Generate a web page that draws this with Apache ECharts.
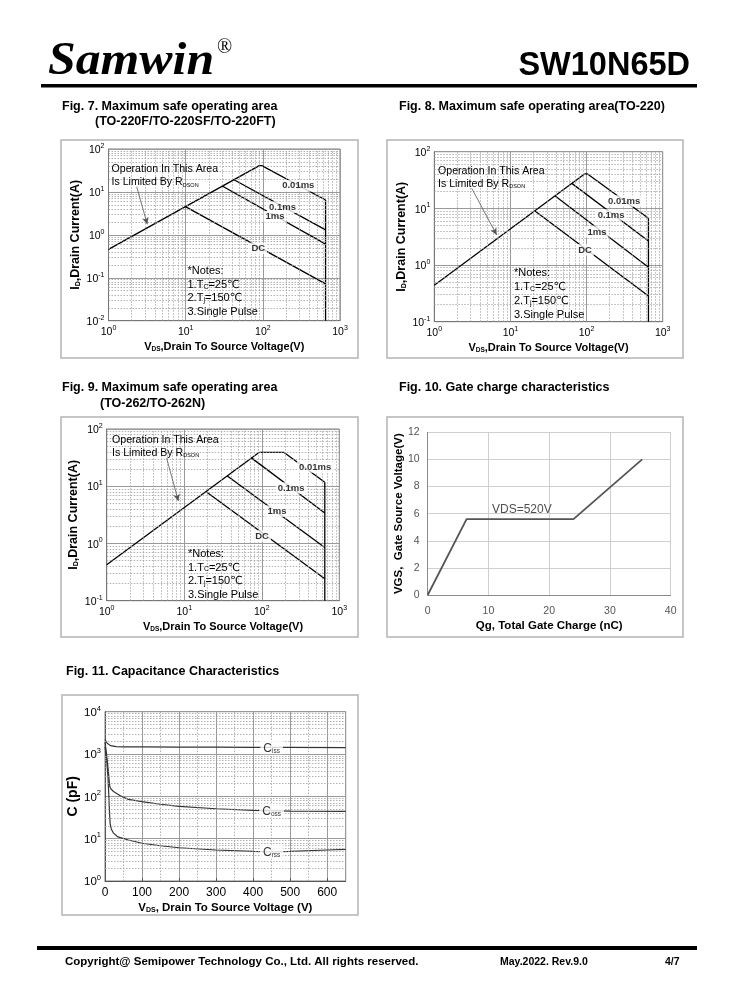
<!DOCTYPE html>
<html><head><meta charset="utf-8">
<script src="https://cdn.jsdelivr.net/npm/echarts@6/dist/echarts.min.js"></script>
<style>html,body{margin:0;padding:0;background:#fff}#c{width:738px;height:1000px}</style>
</head><body><div id="c"></div>
<script>
// ---------------- DATA ----------------
// Fig. 7  SOA (TO-220F/TO-220SF/TO-220FT)   [Vds (V), Id (A)]
const fig7Rdson = [[1, 0.458], [90, 41]];
const fig7P10us = [[90, 41], [97, 41], [650, 6.5]];
const fig7P100us = [[41.7, 19.5], [650, 1.31]];
const fig7P1ms = [[29.4, 13.9], [650, 0.61]];
const fig7DC = [[9.8, 4.6], [650, 0.072]];
const fig7Limit = [[650, 6.5], [650, 0.01]];
const fig7Labels = [[288, 14.0, '0.01ms'], [180, 4.38, '0.1ms'], [143.5, 2.64, '1ms'], [87.2, 0.484, 'DC']];
const fig7Arrow = [[2.32, 13.2], [3.18, 1.76]];

// Fig. 8  SOA (TO-220)
const fig8Rdson = [[1, 0.44], [94, 40.4]];
const fig8P10us = [[94, 40.4], [103, 40.4], [650, 6.7]];
const fig8P100us = [[64, 27.6], [650, 2.65]];
const fig8P1ms = [[38.7, 16.5], [650, 0.91]];
const fig8DC = [[21, 9.0], [650, 0.284]];
const fig8Limit = [[650, 6.7], [650, 0.1]];
const fig8Labels = [[311, 13.5, '0.01ms'], [210, 7.66, '0.1ms'], [137, 3.84, '1ms'], [95.5, 1.85, 'DC']];
const fig8Arrow = [[3.1, 22.6], [6.6, 3.4]];

// Fig. 9  SOA (TO-262/TO-262N)
const fig9Rdson = [[1, 0.425], [93, 39.2]];
const fig9P10us = [[93, 39.2], [192, 39.2], [650, 11.7]];
const fig9P100us = [[72.8, 31.6], [650, 3.4]];
const fig9P1ms = [[35.6, 15.3], [650, 0.85]];
const fig9DC = [[19, 8.1], [650, 0.241]];
const fig9Limit = [[650, 11.7], [650, 0.1]];
const fig9Labels = [[487, 21.7, '0.01ms'], [239, 9.3, '0.1ms'], [157, 3.68, '1ms'], [101, 1.35, 'DC']];
const fig9Arrow = [[5.94, 30.8], [8.4, 5.5]];

// Fig. 10 Gate charge   [Qg (nC), Vgs (V)]
const fig10Qg = [[0, 0], [6.4, 5.6], [24, 5.6], [35.3, 10]];
const fig10Label = [[15.5, 6.27, 'VDS=520V']];

// Fig. 11 Capacitance   [Vds (V), C (pF)]
const fig11Ciss = [[0, 2200], [3, 2000], [6, 1800], [10, 1680], [15, 1580], [20, 1540], [30, 1500], [50, 1480], [100, 1470], [200, 1460], [300, 1450], [400, 1440], [500, 1430], [650, 1420]];
const fig11Coss = [[0, 1900], [3, 1200], [6, 700], [9, 400], [11, 250], [13, 170], [16, 150], [23, 130], [40, 105], [63, 85], [100, 75], [150, 65], [200, 58], [300, 51], [400, 46.5], [500, 45], [650, 44]];
const fig11Crss = [[0, 1500], [4, 800], [8, 300], [10, 120], [12, 45], [14, 22], [17, 17], [23, 13.5], [35, 11], [63, 9.3], [100, 7.8], [150, 6.8], [200, 6.1], [300, 5.4], [400, 5.0], [450, 4.9], [500, 5.0], [600, 5.4], [650, 5.6]];
const fig11Labels = [[450, 1450, 'iss'], [450, 46, 'oss'], [450, 5.0, 'rss']];

// ---------------- HELPERS ----------------
const FF = '"Liberation Sans", Arial, "Noto Sans CJK SC", sans-serif';
function logMinors(lo, hi) { const a = []; for (let d = lo; d < hi; d++) for (let k = 2; k <= 9; k++) a.push(+(k * Math.pow(10, d)).toPrecision(6)); return a; }
function linMinors(from, to, step) { const a = []; for (let v = from; v <= to; v += step) a.push(v); return a; }
const supRich = {
  b: { fontSize: 10.5, fontFamily: FF, color: '#000', lineHeight: 13, verticalAlign: 'bottom' },
  s: { fontSize: 7, fontFamily: FF, color: '#000', lineHeight: 8, verticalAlign: 'top' }
};
function powLabel(v) { const e = Math.round(Math.log10(v)); return '{b|10}{s|' + e + '}'; }

function soaAxes(gi, ymin) {
  const x = {
    type: 'log', logBase: 10, min: 1, max: 1000, gridIndex: gi,
    axisLine: { show: true, lineStyle: { color: '#777', width: 1 } },
    axisTick: { show: false },
    splitLine: { show: true, lineStyle: { color: '#9a9a9a', width: 1 } },
    axisLabel: { formatter: powLabel, rich: supRich, margin: 4 },
    name: '{b|V}{s|DS}{b|,Drain To Source Voltage(V)}', nameLocation: 'middle', nameGap: 19,
    nameTextStyle: { rich: { b: { fontSize: 11, fontWeight: 'bold', fontFamily: FF, color: '#000', verticalAlign: 'bottom', lineHeight: 13 }, s: { fontSize: 6.5, fontWeight: 'bold', fontFamily: FF, color: '#000', verticalAlign: 'bottom', lineHeight: 10 } } }
  };
  const y = {
    type: 'log', logBase: 10, min: ymin, max: 100, gridIndex: gi,
    axisLine: { show: true, lineStyle: { color: '#777', width: 1 } },
    axisTick: { show: false },
    splitLine: { show: true, lineStyle: { color: '#9a9a9a', width: 1 } },
    axisLabel: { formatter: powLabel, rich: supRich, margin: 4 },
    name: '{b|I}{s|D}{b|,Drain Current(A)}', nameLocation: 'middle', nameGap: 27, nameRotate: 90,
    nameTextStyle: { rich: { b: { fontSize: 12.5, fontWeight: 'bold', fontFamily: FF, color: '#000', verticalAlign: 'bottom', lineHeight: 15 }, s: { fontSize: 7, fontWeight: 'bold', fontFamily: FF, color: '#000', verticalAlign: 'bottom', lineHeight: 11 } } }
  };
  return [x, y];
}
function gridLines(gi, xs, ys, color) {
  const d = [];
  xs.forEach(v => d.push({ xAxis: v }));
  ys.forEach(v => d.push({ yAxis: v }));
  return {
    type: 'line', xAxisIndex: gi, yAxisIndex: gi, data: [], z: 1, silent: true,
    markLine: { silent: true, symbol: 'none', animation: false, label: { show: false },
      lineStyle: { type: [1.5, 1.5], color: color || '#a0a0a0', width: 0.8 }, data: d }
  };
}
function curve(gi, data, color, width) {
  return { type: 'line', xAxisIndex: gi, yAxisIndex: gi, data: data, showSymbol: false, symbol: 'none',
    lineStyle: { color: color || '#000', width: width || 1.3 }, z: 3, silent: true, clip: true };
}
function labels(gi, arr, style) {
  return { type: 'scatter', xAxisIndex: gi, yAxisIndex: gi, symbolSize: 1, z: 6, silent: true,
    itemStyle: { color: 'transparent' },
    data: arr.map(a => ({ value: [a[0], a[1]], name: a[2] })),
    label: Object.assign({ show: true, position: 'inside', formatter: '{b}', color: '#000', fontFamily: FF,
      fontSize: 9.5, fontWeight: 'bold', backgroundColor: '#fff', padding: [1, 2] }, style || {}) };
}
function arrow(gi, a) {
  return { type: 'line', xAxisIndex: gi, yAxisIndex: gi, data: [], z: 4, silent: true,
    markLine: { silent: true, animation: false, symbol: ['none', 'arrow'], symbolSize: [5, 7], label: { show: false },
      lineStyle: { type: 'solid', color: '#555', width: 0.8 },
      data: [[{ coord: a[0] }, { coord: a[1] }]] } };
}

// ---------------- OPTION ----------------
const grids = [
  { left: 108.5, top: 149, width: 231.5, height: 171.7, show: true, borderColor: '#808080', borderWidth: 1 },
  { left: 434.3, top: 151.7, width: 228.4, height: 170, show: true, borderColor: '#808080', borderWidth: 1 },
  { left: 106.7, top: 429, width: 232.6, height: 171.7, show: true, borderColor: '#808080', borderWidth: 1 },
  { left: 427.7, top: 432.3, width: 243, height: 162.7 },
  { left: 105, top: 711.7, width: 240.7, height: 169.3, show: true, borderColor: '#808080', borderWidth: 1 }
];
const a7 = soaAxes(0, 0.01), a8 = soaAxes(1, 0.1), a9 = soaAxes(2, 0.1);
const xAxes = [a7[0], a8[0], a9[0],
  { type: 'value', gridIndex: 3, min: 0, max: 40, interval: 10,
    axisLine: { show: true, lineStyle: { color: '#8a8a8a' } }, axisTick: { show: false },
    splitLine: { show: true, lineStyle: { color: '#cfcfcf' } },
    axisLabel: { color: '#555', fontSize: 10.5, fontFamily: FF, margin: 11 },
    name: 'Qg, Total Gate Charge (nC)', nameLocation: 'middle', nameGap: 25,
    nameTextStyle: { fontSize: 11.5, fontWeight: 'bold', fontFamily: FF, color: '#000' } },
  { type: 'value', gridIndex: 4, min: 0, max: 650, interval: 100,
    axisLine: { show: true, lineStyle: { color: '#555' } },
    axisTick: { show: true, inside: true, length: 3, lineStyle: { color: '#555' } },
    splitLine: { show: true, lineStyle: { color: '#9a9a9a' } },
    axisLabel: { color: '#000', fontSize: 12, fontFamily: FF, margin: 6, showMaxLabel: false },
    name: '{b|V}{s|DS}{b|, Drain To Source Voltage (V)}', nameLocation: 'middle', nameGap: 19,
    nameTextStyle: { rich: { b: { fontSize: 11.5, fontWeight: 'bold', fontFamily: FF, color: '#000', verticalAlign: 'bottom', lineHeight: 14 }, s: { fontSize: 7, fontWeight: 'bold', fontFamily: FF, color: '#000', verticalAlign: 'bottom', lineHeight: 11 } } } }
];
const yAxes = [a7[1], a8[1], a9[1],
  { type: 'value', gridIndex: 3, min: 0, max: 12, interval: 2,
    axisLine: { show: true, lineStyle: { color: '#8a8a8a' } }, axisTick: { show: false },
    splitLine: { show: true, lineStyle: { color: '#cfcfcf' } },
    axisLabel: { color: '#555', fontSize: 10.5, fontFamily: FF, margin: 8 },
    name: 'VGS,  Gate Source Voltage(V)', nameLocation: 'middle', nameGap: 20,
    nameTextStyle: { fontSize: 11.5, fontWeight: 'bold', fontFamily: FF, color: '#000' } },
  { type: 'log', logBase: 10, gridIndex: 4, min: 1, max: 10000,
    axisLine: { show: true, lineStyle: { color: '#555' } }, axisTick: { show: false },
    splitLine: { show: true, lineStyle: { color: '#9a9a9a' } },
    axisLabel: { formatter: powLabel, rich: { b: { fontSize: 11.5, fontFamily: FF, color: '#000', lineHeight: 14, verticalAlign: 'bottom' }, s: { fontSize: 7.5, fontFamily: FF, color: '#000', lineHeight: 8.5, verticalAlign: 'top' } }, margin: 4 },
    name: 'C (pF)', nameLocation: 'middle', nameGap: 24,
    nameTextStyle: { fontSize: 14, fontWeight: 'bold', fontFamily: FF, color: '#000' } }
];

const series = [
  gridLines(0, logMinors(0, 3), logMinors(-2, 2)),
  curve(0, fig7Rdson), curve(0, fig7P10us), curve(0, fig7P100us), curve(0, fig7P1ms), curve(0, fig7DC), curve(0, fig7Limit),
  labels(0, fig7Labels), arrow(0, fig7Arrow),

  gridLines(1, logMinors(0, 3), logMinors(-1, 2)),
  curve(1, fig8Rdson), curve(1, fig8P10us), curve(1, fig8P100us), curve(1, fig8P1ms), curve(1, fig8DC), curve(1, fig8Limit),
  labels(1, fig8Labels), arrow(1, fig8Arrow),

  gridLines(2, logMinors(0, 3), logMinors(-1, 2)),
  curve(2, fig9Rdson), curve(2, fig9P10us), curve(2, fig9P100us), curve(2, fig9P1ms), curve(2, fig9DC), curve(2, fig9Limit),
  labels(2, fig9Labels), arrow(2, fig9Arrow),

  curve(3, fig10Qg, '#555', 1.8),
  labels(3, fig10Label, { fontWeight: 'normal', fontSize: 12, backgroundColor: 'transparent', color: '#222' }),

  gridLines(4, linMinors(50, 600, 100), logMinors(0, 4)),
  curve(4, fig11Ciss, '#333', 1.2), curve(4, fig11Coss, '#333', 1.2), curve(4, fig11Crss, '#333', 1.2),
  labels(4, fig11Labels, { formatter: '{c|C}{s|{b}}', fontWeight: 'normal', padding: [0, 3],
    rich: { c: { fontSize: 12, fontFamily: FF, color: '#000', verticalAlign: 'bottom', lineHeight: 14 }, s: { fontSize: 6.5, fontFamily: FF, color: '#000', verticalAlign: 'bottom', lineHeight: 11 } } })
];

// ---------------- GRAPHIC (page text) ----------------
const g = [];
function txt(x, y, text, o) {
  o = o || {};
  g.push({ type: 'text', x: x, y: y, silent: true, z: 10, scaleX: o.sx || 1,
    style: { text: text, fill: o.color || '#000', fontSize: o.size || 12, fontWeight: o.weight || 'normal',
      fontStyle: o.style || 'normal', fontFamily: o.family || FF,
      align: o.align || 'left', textAlign: o.align || 'left', verticalAlign: o.va || 'middle', textVerticalAlign: o.va || 'middle',
      rich: o.rich } });
}
function box(x, y, w, h) {
  g.push({ type: 'rect', silent: true, z: 0, shape: { x: x, y: y, width: w, height: h },
    style: { fill: 'none', stroke: '#b4b4b4', lineWidth: 1.5 } });
}
function bar(x, y, w, h) {
  g.push({ type: 'rect', silent: true, z: 0, shape: { x: x, y: y, width: w, height: h }, style: { fill: '#000' } });
}
// header
txt(48, 62, 'Samwin', { size: 47, weight: 'bold', style: 'italic', sx: 1.06, family: '"Liberation Serif", "DejaVu Serif", serif' });
txt(217, 48, '®', { size: 20, family: '"Liberation Serif", serif' });
txt(690, 66, 'SW10N65D', { size: 32.5, weight: 'bold', align: 'right' });
bar(41, 84, 656, 3.5);
// boxes
box(61, 140, 297, 218); box(387, 140, 296, 218);
box(61, 417, 297, 220); box(387, 417, 296, 220);
box(62, 695, 296, 220);
// figure titles
const TB = { size: 12.5, weight: 'bold' };
txt(62, 107, 'Fig. 7. Maximum safe operating area', TB);
txt(95, 122, '(TO-220F/TO-220SF/TO-220FT)', TB);
txt(399, 107, 'Fig. 8. Maximum safe operating area(TO-220)', TB);
txt(62, 388, 'Fig. 9. Maximum safe operating area', TB);
txt(100, 404, '(TO-262/TO-262N)', TB);
txt(399, 388, 'Fig. 10. Gate charge characteristics', TB);
txt(66, 672, 'Fig. 11. Capacitance Characteristics', TB);
// annotations in SOA charts
const annRich = { n: { fontSize: 10.6, fontFamily: FF, color: '#000', verticalAlign: 'bottom', lineHeight: 13 }, s: { fontSize: 5.5, fontFamily: FF, color: '#000', verticalAlign: 'bottom', lineHeight: 10 } };
const noteRich = { n: { fontSize: 11, fontFamily: '"Liberation Sans", "DejaVu Sans", "Noto Sans CJK SC", sans-serif', color: '#000', verticalAlign: 'bottom', lineHeight: 13 }, s: { fontSize: 7, fontFamily: FF, color: '#000', verticalAlign: 'bottom', lineHeight: 10 } };
function soaText(ox, oy, ny, ndy) {
  txt(ox, oy, '{n|Operation In This Area}', { rich: annRich });
  txt(ox, oy + 13, '{n|Is Limited By R}{s|DSON}', { rich: annRich });
  txt(ox + 76, ny, '{n|*Notes:}', { rich: noteRich });
  txt(ox + 76, ny + ndy, '{n|1.T}{s|C}{n|=25℃}', { rich: noteRich });
  txt(ox + 76, ny + 2 * ndy, '{n|2.T}{s|j}{n|=150℃}', { rich: noteRich });
  txt(ox + 76, ny + 3 * ndy, '{n|3.Single Pulse}', { rich: noteRich });
}
soaText(111.5, 168.3, 270, 13.6);
soaText(438, 170, 272, 14);
soaText(112, 439, 553, 13.5);
// footer
bar(37, 946, 660, 4);
txt(65, 962, 'Copyright@ Semipower Technology Co., Ltd. All rights reserved.', { size: 11.5, weight: 'bold' });
txt(500, 962, 'May.2022. Rev.9.0', { size: 10.5, weight: 'bold' });
txt(665, 962, '4/7', { size: 10.5, weight: 'bold' });

const chart = echarts.init(document.getElementById('c'), null, { renderer: 'canvas' });
chart.setOption({
  animation: false, backgroundColor: '#fff',
  grid: grids, xAxis: xAxes, yAxis: yAxes, series: series, graphic: g
});
</script></body></html>
